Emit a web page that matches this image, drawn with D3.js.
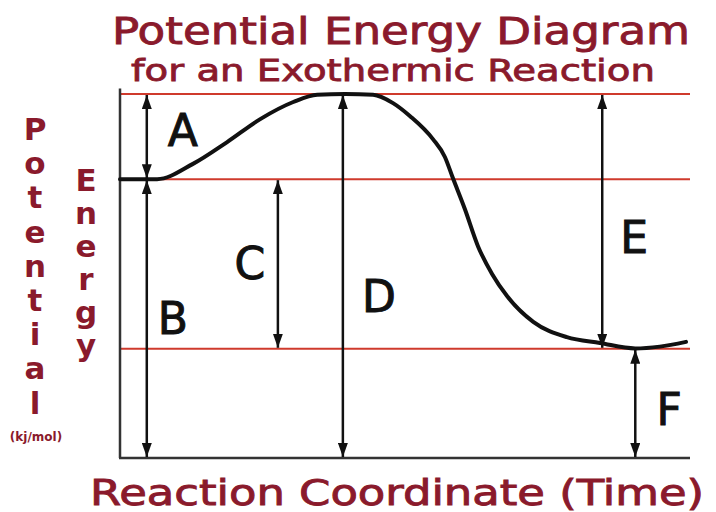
<!DOCTYPE html>
<html>
<head>
<meta charset="utf-8">
<script src="https://cdnjs.cloudflare.com/ajax/libs/d3/7.8.5/d3.min.js"></script>
<style>
  body { margin: 0; background: #fff; }
  text { font-family: "DejaVu Sans", sans-serif; }
</style>
</head>
<body>
<svg id="chart"></svg>
<script>
var width = 716;
var height = 512;

// reaction coordinate (0-100) and potential energy (0-100, arbitrary kj/mol)
var curveX = [0, 6.5, 12.8, 18.8, 24.6, 30.4, 34.6, 39.5, 44.4, 47.9, 50.9, 54.9, 57.0, 58.4, 60.5, 62.8, 65.3, 67.9, 72.5, 78.4, 84.2, 90.4, 94.7, 99.3];
var curveE = [76.6, 76.6, 80.8, 86.8, 93.1, 97.8, 99.8, 100, 99.8, 97.5, 93.9, 87.6, 82.7, 76.9, 68.4, 58.2, 50.5, 44.5, 37.4, 33.2, 31.6, 30.1, 30.6, 31.9];

// energy levels: activated complex, reactants, products
var levels = [100, 76.6, 30];

// labelled arrows
var arrowNames = ["A", "B", "C", "D", "E", "F"];
var arrowX     = [4.7, 4.7, 27.7, 39.1, 84.6, 90.4];
var arrowFrom  = [100, 76.6, 76.6, 100, 100, 30];
var arrowTo    = [76.6, 0, 30, 0, 30, 0];

var titleText = "Potential Energy Diagram";
var subtitleText = "for an Exothermic Reaction";
var xLabelText = "Reaction Coordinate (Time)";
var yLabelOuter = "Potential";
var yLabelInner = "Energy";
var unitText = "(kj/mol)";

// label placement relative to arrow midpoint (pixels)
var labelDx = [36, 26, -28, 36, 32, 34];
var labelDy = [-6, 0, 0, 20, 16, 6];

var darkRed = "#8a1a2c";
var lineRed = "#cf3a2c";

var xScale = d3.scaleLinear().domain([0, 100]).range([120, 690]);
var yScale = d3.scaleLinear().domain([0, 100]).range([458, 94]);

var svg = d3.select("#chart")
	.attr("width", width)
	.attr("height", height)
	.style("background", "#fff");

var defs = svg.append("defs");
defs.append("marker")
	.attr("id", "head")
	.attr("viewBox", "0 0 14 10")
	.attr("refX", 14).attr("refY", 5)
	.attr("markerWidth", 14).attr("markerHeight", 10)
	.attr("markerUnits", "userSpaceOnUse")
	.attr("orient", "auto-start-reverse")
	.append("path")
	.attr("d", "M0,0 L14,5 L0,10 Z")
	.attr("fill", "#111");

// energy level lines
svg.append("g").selectAll("line")
	.data(levels)
	.enter().append("line")
	.attr("x1", xScale(0)).attr("x2", xScale(100))
	.attr("y1", d => yScale(d)).attr("y2", d => yScale(d))
	.attr("stroke", lineRed)
	.attr("stroke-width", 2);

// axes
svg.append("line")
	.attr("x1", xScale(0)).attr("x2", xScale(0))
	.attr("y1", yScale(101.5)).attr("y2", yScale(0))
	.attr("stroke", "#333").attr("stroke-width", 2.5);
svg.append("line")
	.attr("x1", xScale(0) - 1).attr("x2", xScale(100))
	.attr("y1", yScale(0)).attr("y2", yScale(0))
	.attr("stroke", "#333").attr("stroke-width", 2.5);

// reaction curve
var pts = curveX.map((x, i) => [x, curveE[i]]);
svg.append("path")
	.datum(pts)
	.attr("d", d3.line().x(d => xScale(d[0])).y(d => yScale(d[1])).curve(d3.curveMonotoneX))
	.attr("fill", "none")
	.attr("stroke", "#111")
	.attr("stroke-width", 4)
	.attr("stroke-linecap", "round");

// arrows
var arrows = svg.append("g").selectAll("g")
	.data(arrowNames)
	.enter().append("g");

arrows.append("line")
	.attr("x1", (d, i) => xScale(arrowX[i])).attr("x2", (d, i) => xScale(arrowX[i]))
	.attr("y1", (d, i) => yScale(arrowFrom[i]) + 1).attr("y2", (d, i) => yScale(arrowTo[i]) - 1)
	.attr("stroke", "#111")
	.attr("stroke-width", 2.5)
	.attr("marker-start", "url(#head)")
	.attr("marker-end", "url(#head)");

arrows.append("text")
	.attr("x", (d, i) => xScale(arrowX[i]) + labelDx[i])
	.attr("y", (d, i) => (yScale(arrowFrom[i]) + yScale(arrowTo[i])) / 2 + labelDy[i])
	.attr("text-anchor", "middle")
	.attr("dominant-baseline", "central")
	.attr("font-size", 44)
	.attr("fill", "#111")
	.attr("stroke", "#111")
	.attr("stroke-width", 1)
	.text(d => d);

// titles
svg.append("text")
	.attr("x", 401).attr("y", 44)
	.attr("text-anchor", "middle")
	.attr("font-size", 38)
	.attr("fill", darkRed)
	.attr("stroke", darkRed).attr("stroke-width", 0.9)
	.attr("textLength", 578).attr("lengthAdjust", "spacingAndGlyphs")
	.text(titleText);

svg.append("text")
	.attr("x", 393).attr("y", 81)
	.attr("text-anchor", "middle")
	.attr("font-size", 30)
	.attr("fill", darkRed)
	.attr("stroke", darkRed).attr("stroke-width", 0.8)
	.attr("textLength", 524).attr("lengthAdjust", "spacingAndGlyphs")
	.text(subtitleText);

svg.append("text")
	.attr("x", 397).attr("y", 505)
	.attr("text-anchor", "middle")
	.attr("font-size", 36)
	.attr("fill", darkRed)
	.attr("stroke", darkRed).attr("stroke-width", 0.9)
	.attr("textLength", 614).attr("lengthAdjust", "spacingAndGlyphs")
	.text(xLabelText);

// stacked y label letters, one text per letter
svg.append("g").selectAll("text")
	.data(yLabelOuter.split(""))
	.enter().append("text")
	.attr("x", 35)
	.attr("y", (d, i) => 140 + i * 34.2)
	.attr("text-anchor", "middle")
	.attr("font-size", 31)
	.attr("font-weight", "bold")
	.attr("fill", darkRed)
	.text(d => d);

svg.append("g").selectAll("text")
	.data(yLabelInner.split(""))
	.enter().append("text")
	.attr("x", 86)
	.attr("y", (d, i) => 191 + i * 33)
	.attr("text-anchor", "middle")
	.attr("font-size", 31)
	.attr("font-weight", "bold")
	.attr("fill", darkRed)
	.text(d => d);

svg.append("text")
	.attr("x", 36).attr("y", 441)
	.attr("text-anchor", "middle")
	.attr("font-size", 12)
	.attr("font-weight", "bold")
	.attr("fill", darkRed)
	.text(unitText);
</script>
</body>
</html>
